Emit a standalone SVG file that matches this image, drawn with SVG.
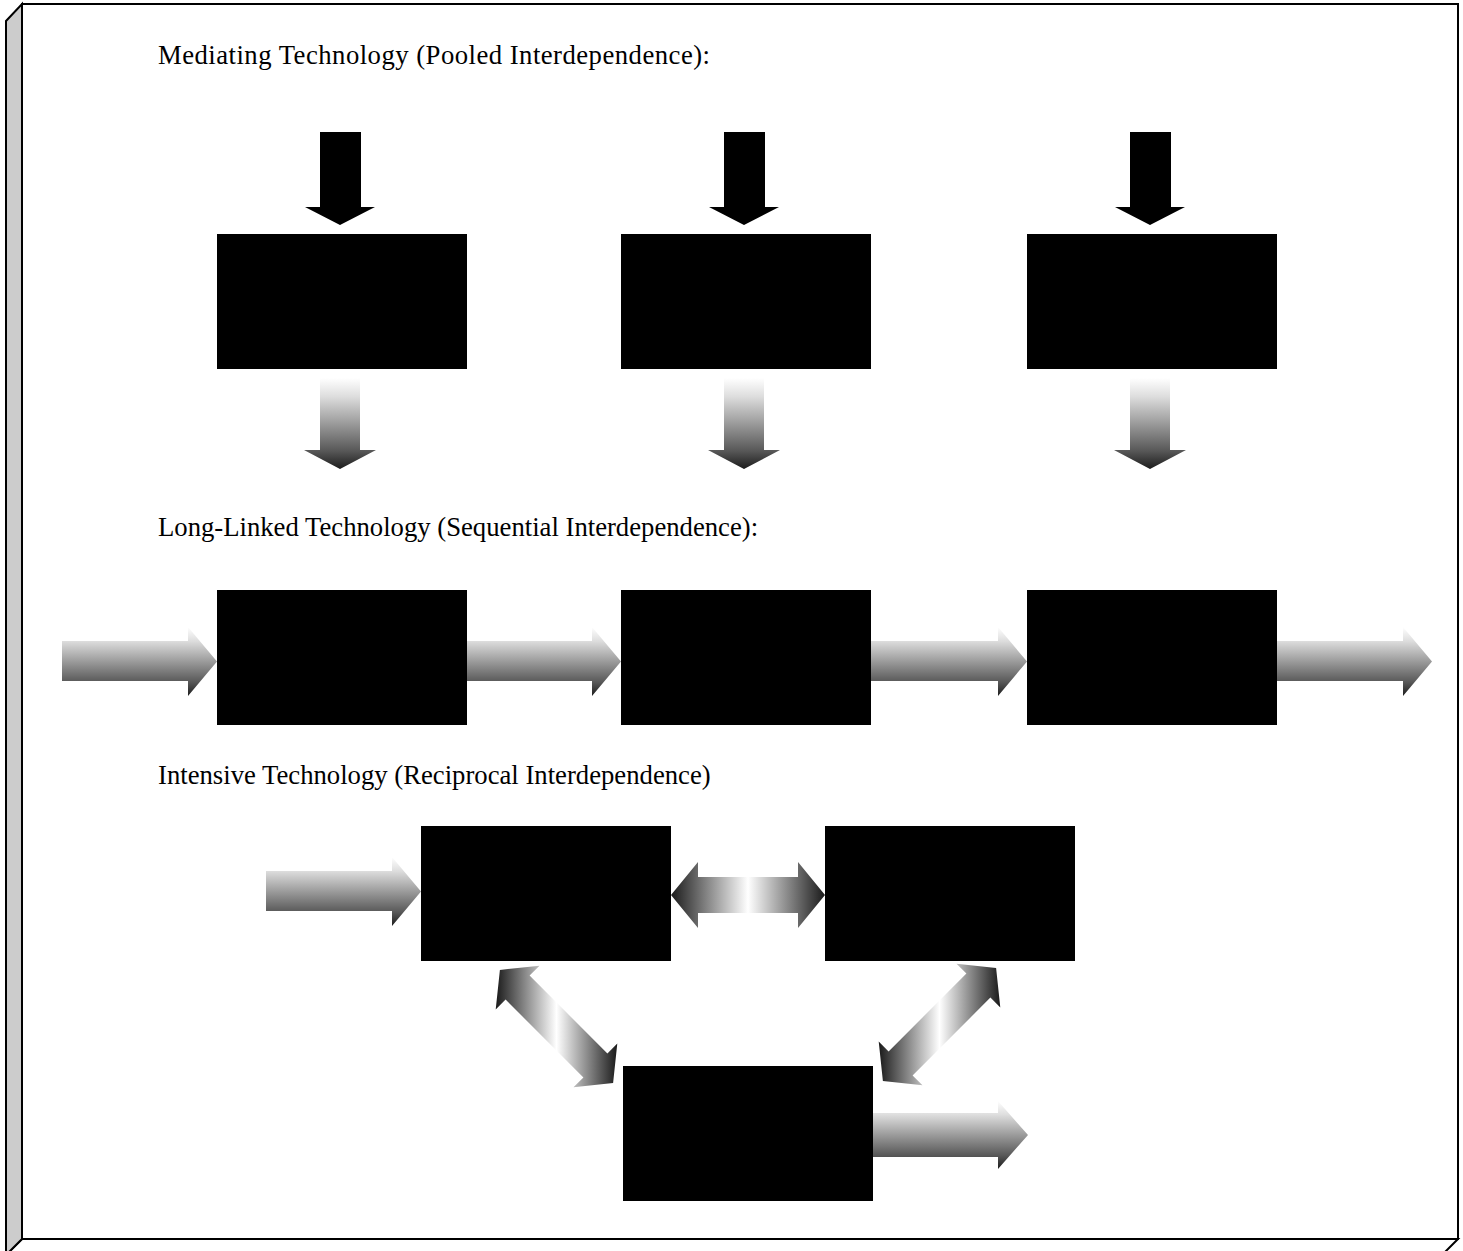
<svg xmlns="http://www.w3.org/2000/svg" width="1463" height="1251" viewBox="0 0 1463 1251">
  <defs>
    <!-- light-to-dark shading for single-headed arrows -->
    <linearGradient id="shadeV" x1="0" y1="0" x2="0" y2="1">
      <stop offset="0" stop-color="#ffffff"/>
      <stop offset="0.2" stop-color="#dedede"/>
      <stop offset="0.8" stop-color="#585858"/>
      <stop offset="1" stop-color="#1c1c1c"/>
    </linearGradient>
    <!-- dark ends, bright centre for two-headed arrows -->
    <linearGradient id="shadeH" x1="0" y1="0" x2="1" y2="0">
      <stop offset="0" stop-color="#1a1a1a"/>
      <stop offset="0.5" stop-color="#ffffff"/>
      <stop offset="1" stop-color="#1a1a1a"/>
    </linearGradient>
    <style>
      .frame { stroke: #000; stroke-width: 2; stroke-linejoin: miter; }
      .unit { fill: #000; }
      .label { font-family: "Liberation Serif", "Times New Roman", serif; font-size: 26.7px; fill: #000; }
      .inflow { fill: #000; }
      .flow { fill: url(#shadeV); }
      .link { fill: url(#shadeH); }
    </style>
  </defs>

  <!-- 3-D page frame -->
  <g id="frame">
    <polygon class="frame" fill="#fff" points="22,1239 1458,1239 1442,1255 6,1255"/>
    <polygon class="frame" fill="#cccccc" points="6,21 22,4 22,1239 6,1255"/>
    <rect class="frame" fill="#fff" x="22" y="4" width="1436" height="1235"/>
  </g>

  <!-- section headings -->
  <text id="title-mediating" class="label" x="158" y="64" textLength="552" lengthAdjust="spacing">Mediating Technology (Pooled Interdependence):</text>
  <text id="title-longlinked" class="label" x="158" y="536">Long-Linked Technology (Sequential Interdependence):</text>
  <text id="title-intensive" class="label" x="158" y="784">Intensive Technology (Reciprocal Interdependence)</text>

  <!-- pooled units -->
  <g id="pooled-1"><rect class="unit" x="217" y="234" width="250" height="135"/></g>
  <g id="pooled-2"><rect class="unit" x="621" y="234" width="250" height="135"/></g>
  <g id="pooled-3"><rect class="unit" x="1027" y="234" width="250" height="135"/></g>

  <!-- sequential units -->
  <g id="seq-1"><rect class="unit" x="217" y="590" width="250" height="135"/></g>
  <g id="seq-2"><rect class="unit" x="621" y="590" width="250" height="135"/></g>
  <g id="seq-3"><rect class="unit" x="1027" y="590" width="250" height="135"/></g>

  <!-- reciprocal units -->
  <g id="recip-1"><rect class="unit" x="421" y="826" width="250" height="135"/></g>
  <g id="recip-2"><rect class="unit" x="825" y="826" width="250" height="135"/></g>
  <g id="recip-3"><rect class="unit" x="623" y="1066" width="250" height="135"/></g>

  <g id="connectors">
    <!-- pooled inputs (solid) -->
    <polygon class="inflow" points="320,132 361,132 361,207 375,207 340,225 305,207 320,207"/>
    <polygon class="inflow" points="724,132 765,132 765,207 779,207 744,225 709,207 724,207"/>
    <polygon class="inflow" points="1130,132 1171,132 1171,207 1185,207 1150,225 1115,207 1130,207"/>

    <!-- pooled outputs (shaded) -->
    <polygon class="flow" points="320,378 360,378 360,450 376,450 340,469 304,450 320,450"/>
    <polygon class="flow" points="724,378 764,378 764,450 780,450 744,469 708,450 724,450"/>
    <polygon class="flow" points="1130,378 1170,378 1170,450 1186,450 1150,469 1114,450 1130,450"/>

    <!-- sequential chain -->
    <polygon class="flow" points="62,641 188,641 188,627 217,661.5 188,696 188,681 62,681"/>
    <polygon class="flow" points="467,641 592,641 592,627 621,661.5 592,696 592,681 467,681"/>
    <polygon class="flow" points="871,641 998,641 998,627 1027,661.5 998,696 998,681 871,681"/>
    <polygon class="flow" points="1277,641 1403,641 1403,627 1432,661.5 1403,696 1403,681 1277,681"/>

    <!-- reciprocal input and output -->
    <polygon class="flow" points="266,871 392,871 392,857 421,891.5 392,926 392,911 266,911"/>
    <polygon class="flow" points="873,1113 998,1113 998,1101 1028,1135 998,1169 998,1157 873,1157"/>

    <!-- reciprocal two-way links -->
    <polygon class="link" points="671,895 698,862 698,877 798,877 798,862 825,895 798,928 798,913 698,913 698,928"/>
    <polygon class="link" points="499.9,969.9 539.5,965.7 529.6,975.6 607.4,1053.4 617.3,1043.5 613.1,1083.1 573.5,1087.3 583.4,1077.4 505.6,999.6 495.7,1009.5"/>
    <polygon class="link" points="882.9,1081.1 878.7,1041.5 888.6,1051.4 966.4,973.6 956.5,963.7 996.1,967.9 1000.3,1007.5 990.4,997.6 912.6,1075.4 922.5,1085.3"/>
  </g>
</svg>
